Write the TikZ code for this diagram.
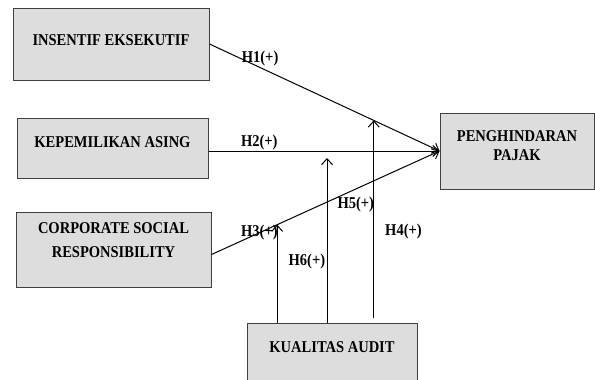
\documentclass[tikz,border=0pt]{standalone}
\usepackage{fontspec}
\setmainfont{Liberation Serif}[FakeStretch=0.88]
\usetikzlibrary{arrows.meta,calc,positioning}

\begin{document}
\begin{tikzpicture}[x=1pt,y=-1pt,>={Straight Barb[length=6pt,width=11pt]},
  var/.style={draw=black!75,line width=1pt,fill=gray!27,align=center,
    inner sep=0pt,font=\fontsize{16.5}{18}\selectfont\bfseries},
  hyp/.style={inner sep=1pt,font=\fontsize{16.5}{16}\selectfont\bfseries},
  link/.style={->,line width=1pt}]
\useasboundingbox (0,0) rectangle (595,380);
\node[var,minimum width=196pt,minimum height=72pt,text depth=8pt] (ins) at (111,44) {INSENTIF EKSEKUTIF};
\node[var,minimum width=191pt,minimum height=60pt,text depth=12pt] (kep) at (112.5,148) {KEPEMILIKAN ASING};
\node[var,minimum width=195pt,minimum height=75pt,text depth=19pt,
  font=\fontsize{16.5}{24}\selectfont\bfseries] (csr) at (113.5,249.5) {CORPORATE SOCIAL\\RESPONSIBILITY};
\node[var,minimum width=154pt,minimum height=76pt,text depth=10pt,
  font=\fontsize{16.5}{19}\selectfont\bfseries] (tax) at (517,151) {PENGHINDARAN\\PAJAK};
\node[var,anchor=north,minimum width=170pt,text height=29pt,text depth=40pt] (aud) at (332,323) {KUALITAS AUDIT};

\draw[link] (ins.east) -- node[hyp,above,pos=.22] {H1(+)} coordinate[pos=.714] (m1) (tax.west);
\draw[link] (kep.east |- tax.west) -- node[hyp,above=-1pt,pos=.22] {H2(+)} (tax.west);
\draw[link] ([yshift=-5pt]csr.east) -- node[hyp,pos=.21] {H3(+)} coordinate[pos=.288] (m3) (tax.west);
\coordinate (m2) at ($(kep.east |- tax.west)!0.513!(tax.west) + (0,7)$);

\draw[link] ([yshift=5pt]aud.north -| m1) -- node[hyp,right=10pt,pos=.436] {H4(+)} (m1);
\draw[link] (aud.north -| m2) -- node[hyp,right=9pt,pos=.72] {H5(+)} (m2);
\draw[link] (aud.north -| m3) -- node[hyp,right=10pt,pos=.63] {H6(+)} (m3);
\end{tikzpicture}
\end{document}
